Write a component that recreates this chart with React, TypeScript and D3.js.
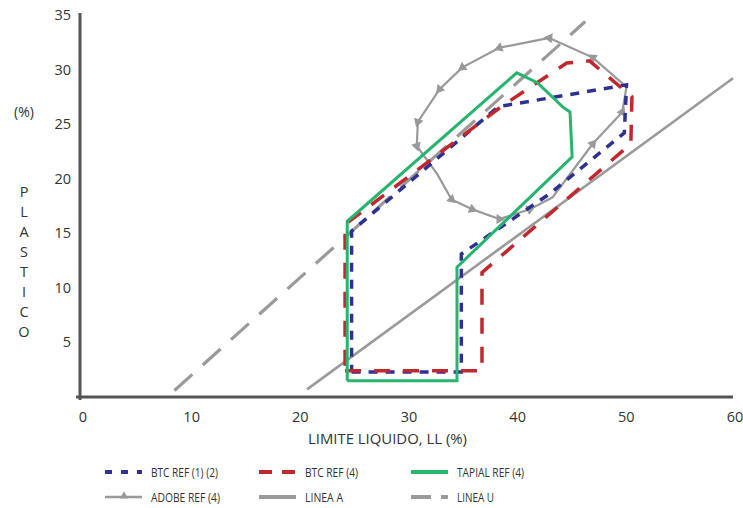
import React, { useEffect, useRef } from "react";
import * as d3 from "d3";

type Pt = [number, number];

// [LL, IP] pairs
const btc12: Pt[] = [
  [24.9, 2.3], [35.0, 2.3], [35.0, 13.1], [43.1, 18.6], [50.0, 24.2],
  [50.2, 28.6], [38.4, 26.6], [24.9, 15.2], [24.9, 2.3],
];
const btc4: Pt[] = [
  [24.3, 2.4], [36.9, 2.4], [36.9, 11.4], [50.6, 23.2], [50.7, 27.5],
  [46.8, 30.8], [44.7, 30.6], [38.8, 26.7], [24.3, 15.8], [24.3, 2.4],
];
const tapial: Pt[] = [
  [24.5, 1.5], [34.6, 1.5], [34.6, 11.9], [45.2, 22.0], [45.0, 26.1],
  [44.3, 26.6], [42.0, 28.8], [40.1, 29.7], [24.5, 16.1], [24.5, 1.5],
];
const adobe: Pt[] = [
  [43.1, 32.9], [38.5, 32.0], [35.1, 30.2], [33.0, 28.2], [31.0, 25.2],
  [30.9, 23.0], [32.8, 20.4], [34.1, 18.1], [36.0, 17.2], [38.5, 16.3],
  [41.3, 17.2], [43.4, 18.3], [47.1, 23.2], [49.8, 26.1], [50.2, 28.4],
  [47.1, 31.1], [43.1, 32.9],
];
// vertices of the adobe loop that carry a marker
const adobeMarks = [0, 1, 2, 3, 4, 5, 7, 8, 9, 10, 12, 13, 15];
const lineaA: Pt[] = [[20.8, 0.7], [60, 29.2]];
const lineaU: Pt[] = [[8.6, 0.6], [46.4, 34.4]];

const xTicks = [0, 10, 20, 30, 40, 50, 60];
const yTicks = [5, 10, 15, 20, 25, 30, 35];
const yLetters = ["P", "L", "A", "S", "T", "I", "C", "O"];

const legendItems = [
  { name: "BTC REF (1) (2)", key: "btc12", w: 67 },
  { name: "BTC REF (4)", key: "btc4", w: 53 },
  { name: "TAPIAL REF (4)", key: "tapial", w: 67 },
  { name: "ADOBE REF (4)", key: "adobe", w: 69 },
  { name: "LINEA A", key: "a", w: 38 },
  { name: "LINEA U", key: "u", w: 37 },
];

const styles: Record<string, { color: string; width: number; dash: string | null }> = {
  btc12: { color: "#2e3192", width: 3.5, dash: "9,8" },
  btc4: { color: "#c1272d", width: 3.5, dash: "16,13" },
  tapial: { color: "#27b46e", width: 3, dash: null },
  adobe: { color: "#999999", width: 2.2, dash: null },
  a: { color: "#9a9a9a", width: 2.6, dash: null },
  u: { color: "#9a9a9a", width: 3.2, dash: "24,14" },
};

export default function App() {
  const ref = useRef<SVGSVGElement>(null);

  useEffect(() => {
    const svg = d3.select(ref.current);
    svg.selectAll("*").remove();

    const width = 743;
    const height = 508;
    svg.attr("width", width).attr("height", height);

    const x = d3.scaleLinear().domain([0, 60]).range([81, 733]);
    const y = d3.scaleLinear().domain([0, 35]).range([397, 15]);
    const font = "'Open Sans', sans-serif";
    const textColor = "#333";

    const line = d3.line<Pt>().x(d => x(d[0])).y(d => y(d[1]));

    const drawSeries = (pts: Pt[], key: string) => {
      const s = styles[key];
      svg.append("path")
        .attr("d", line(pts))
        .attr("fill", "none")
        .attr("stroke", s.color)
        .attr("stroke-width", s.width)
        .attr("stroke-dasharray", s.dash)
        .attr("stroke-linejoin", "miter");
    };

    drawSeries(lineaU, "u");
    drawSeries(lineaA, "a");
    drawSeries(adobe, "adobe");

    // adobe arrow markers
    const tri = d3.symbol().type(d3.symbolTriangle).size(42);
    adobeMarks.forEach(i => {
      const p = adobe[i];
      const prev = adobe[i === 0 ? adobe.length - 2 : i - 1];
      const next = adobe[i + 1];
      const a1 = Math.atan2(y(p[1]) - y(prev[1]), x(p[0]) - x(prev[0]));
      const a2 = Math.atan2(y(next[1]) - y(p[1]), x(next[0]) - x(p[0]));
      const ang = Math.atan2(Math.sin(a1) + Math.sin(a2), Math.cos(a1) + Math.cos(a2));
      svg.append("path")
        .attr("d", tri())
        .attr("fill", "#999")
        .attr("transform", `translate(${x(p[0])},${y(p[1])}) rotate(${(ang * 180) / Math.PI + 90})`);
    });

    drawSeries(btc12, "btc12");
    drawSeries(btc4, "btc4");
    drawSeries(tapial, "tapial");

    // axes
    const axisColor = "#555";
    svg.append("line")
      .attr("x1", x(0) - 1).attr("x2", x(0) - 1)
      .attr("y1", 13).attr("y2", 400)
      .attr("stroke", axisColor).attr("stroke-width", 3);
    svg.append("line")
      .attr("x1", 76).attr("x2", 733)
      .attr("y1", y(0)).attr("y2", y(0))
      .attr("stroke", axisColor).attr("stroke-width", 3);

    svg.append("g")
      .selectAll("text")
      .data(xTicks)
      .enter()
      .append("text")
      .attr("x", d => x(d) + 2)
      .attr("y", 422)
      .attr("text-anchor", "middle")
      .attr("font-family", font)
      .attr("font-size", 14.5)
      .attr("fill", textColor)
      .text(d => d);

    svg.append("g")
      .selectAll("text")
      .data(yTicks)
      .enter()
      .append("text")
      .attr("x", 71)
      .attr("y", d => y(d) + 5)
      .attr("text-anchor", "end")
      .attr("font-family", font)
      .attr("font-size", 14.5)
      .attr("fill", textColor)
      .text(d => d);

    svg.append("text")
      .attr("x", 308)
      .attr("y", 444)
      .attr("font-family", font)
      .attr("font-size", 14)
      .attr("fill", textColor)
      .attr("textLength", 159)
      .attr("lengthAdjust", "spacingAndGlyphs")
      .text("LIMITE LIQUIDO, LL (%)");

    svg.append("text")
      .attr("x", 24)
      .attr("y", 117)
      .attr("text-anchor", "middle")
      .attr("font-family", font)
      .attr("font-size", 14)
      .attr("fill", textColor)
      .text("(%)");

    svg.append("g")
      .selectAll("text")
      .data(yLetters)
      .enter()
      .append("text")
      .attr("x", 24)
      .attr("y", (d, i) => 197 + i * 20)
      .attr("text-anchor", "middle")
      .attr("font-family", font)
      .attr("font-size", 14.5)
      .attr("fill", textColor)
      .text(d => d);

    // legend
    const colX = [105, 259, 411];
    const rowY = [472, 497];
    legendItems.forEach((it, i) => {
      const cx = colX[i % 3];
      const cy = rowY[Math.floor(i / 3)];
      const s = styles[it.key];
      const g = svg.append("g");
      g.append("line")
        .attr("x1", cx).attr("x2", cx + 37)
        .attr("y1", cy).attr("y2", cy)
        .attr("stroke", s.color)
        .attr("stroke-width", it.key === "adobe" ? 2.5 : 4)
        .attr("stroke-dasharray", it.key === "btc12" ? "7,9" : it.key === "btc4" ? "13,10" : it.key === "u" ? "20,10" : null);
      if (it.key === "adobe") {
        g.append("path")
          .attr("d", d3.symbol().type(d3.symbolTriangle).size(30)())
          .attr("fill", "#999")
          .attr("transform", `translate(${cx + 19},${cy - 1})`);
      }
      g.append("text")
        .attr("x", cx + 46)
        .attr("y", cy + 5)
        .attr("font-family", font)
        .attr("font-size", 13.5)
        .attr("fill", textColor)
        .attr("textLength", it.w)
        .attr("lengthAdjust", "spacingAndGlyphs")
        .text(it.name);
    });
  }, []);

  return (
    <div style={{ position: "absolute", left: 0, top: 0, background: "#fff" }}>
      <svg ref={ref}></svg>
    </div>
  );
}
